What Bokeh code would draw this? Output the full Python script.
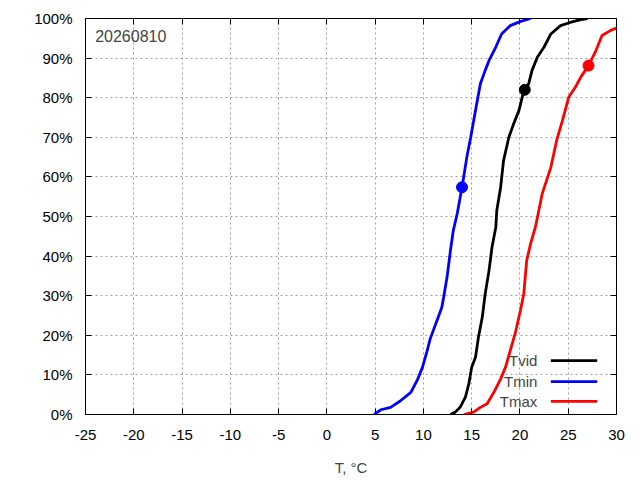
from bokeh.plotting import figure
from bokeh.models import (Range1d, LinearAxis, FixedTicker, PrintfTickFormatter,
                          CustomJSTickFormatter, Label)
from bokeh.embed import file_html
from bokeh.resources import INLINE

# ---- data ----
date_label = "20260810"
series_names = ["Tvid", "Tmin", "Tmax"]
series_colors = ["#000000", "#0000ff", "#ff0000"]

tvid_T = [12.8, 13.3, 13.8, 14.35, 14.7, 15.0, 15.4, 15.7, 16.1, 16.4, 16.8, 17.1, 17.5, 17.6,
          18.0, 18.3, 18.85, 19.35, 19.9, 20.4, 20.9, 21.25, 21.8, 22.5, 23.2, 24.2, 25.2, 26.3, 27.0]
tvid_P = [0, 0.6, 1.8, 4.4, 7.7, 11.9, 14.5, 19.5, 24.6, 30.5, 36.4, 42.2, 47.3, 51.5,
          57.4, 64.1, 70, 73.4, 76.8, 81.8, 83.5, 86.9, 90.2, 92.8, 96.1, 98.2, 99, 99.7, 100]

tmin_T = [4.9, 5.6, 6.6, 7.6, 8.7, 9.35, 9.9, 10.4, 10.7, 11.4, 11.9, 12.1, 12.45, 12.8,
          13.1, 13.5, 14.0, 14.5, 14.9, 15.4, 15.9, 16.4, 16.8, 17.5, 18.1, 19.0, 20.0, 21.1]
tmin_P = [0, 1.2, 1.8, 3.4, 5.6, 8.6, 11.9, 16.2, 19.1, 23.7, 27, 29.6, 34.7, 41.4,
          46.5, 50.7, 57.4, 65, 70, 76.8, 83.5, 86.9, 89.4, 92.8, 96.1, 98.2, 99.2, 100]

tmax_T = [14.2, 15.2, 15.9, 16.6, 17.3, 18.0, 18.5, 19.0, 19.5, 20.05, 20.4, 20.7, 21.1,
          21.6, 22.3, 23.2, 23.8, 24.4, 25.05, 25.75, 26.3, 27.1, 27.8, 28.5, 29.4, 30.0]
tmax_P = [0, 0.6, 1.8, 2.7, 5.6, 9, 11.9, 16.2, 20.4, 26.3, 30.5, 38.9, 43.1,
          47.3, 55.7, 62.4, 69.2, 74.2, 80.1, 82.7, 85.2, 88.1, 91.5, 95.7, 97, 97.6]

marker_T = [20.5, 14.0, 27.1]
marker_P = [82.0, 57.4, 88.1]

x_ticks = [-25, -20, -15, -10, -5, 0, 5, 10, 15, 20, 25, 30]
y_ticks = [0, 10, 20, 30, 40, 50, 60, 70, 80, 90, 100]

FONT = "Liberation Sans"
FS = "15px"

p = figure(width=632, height=480, output_backend="svg", toolbar_location=None,
           x_range=Range1d(-25, 30), y_range=Range1d(0, 100),
           min_border_left=85, min_border_right=16, min_border_top=18, min_border_bottom=66,
           x_axis_location=None, y_axis_location=None)
p.outline_line_color = "black"
p.outline_line_width = 1
p.background_fill_color = "white"
p.border_fill_color = "white"

def style_axis(ax, show_labels, minor):
    ax.axis_line_color = None
    ax.major_tick_in = 6
    ax.major_tick_out = 0
    ax.minor_tick_in = 3 if minor else 0
    ax.minor_tick_out = 0
    ax.major_tick_line_color = "black"
    ax.minor_tick_line_color = "black" if minor else None
    ax.major_label_text_font = FONT
    ax.major_label_text_font_size = FS
    ax.major_label_text_color = "black"
    if not show_labels:
        ax.formatter = CustomJSTickFormatter(code="return '';")
        ax.major_label_text_color = None
        ax.major_label_standoff = 0

xt = FixedTicker(ticks=x_ticks, num_minor_ticks=5)
yt = FixedTicker(ticks=y_ticks, num_minor_ticks=0)

xb = LinearAxis(ticker=xt, formatter=PrintfTickFormatter(format="%d"), axis_label="T, °C")
style_axis(xb, True, True)
xb.major_label_standoff = 15
xb.axis_label_text_font = FONT
xb.axis_label_text_font_size = FS
xb.axis_label_text_font_style = "normal"
xb.axis_label_standoff = 16
p.add_layout(xb, "below")

xa = LinearAxis(ticker=xt)
style_axis(xa, False, True)
p.add_layout(xa, "above")

yl = LinearAxis(ticker=yt, formatter=PrintfTickFormatter(format="%d%%"))
style_axis(yl, True, False)
yl.major_label_standoff = 13
p.add_layout(yl, "left")

yr = LinearAxis(ticker=yt)
style_axis(yr, False, False)
p.add_layout(yr, "right")

p.xgrid.ticker = xt
p.ygrid.ticker = yt
for g in (p.xgrid, p.ygrid):
    g.grid_line_color = "#a0a0a0"
    g.grid_line_dash = "2 3"
    g.grid_line_width = 1

all_T = [tvid_T, tmin_T, tmax_T]
all_P = [tvid_P, tmin_P, tmax_P]
for T, P, c in zip(all_T, all_P, series_colors):
    p.line(T, P, line_color=c, line_width=2.8)

p.scatter(marker_T, marker_P, size=11, fill_color=series_colors, line_color=series_colors)

p.add_layout(Label(x=-24.0, y=95.7, text=date_label, text_font=FONT, text_font_size="16px",
                   text_baseline="middle", text_align="left"))

# legend (label left, sample right), as in the reference
leg_y = [13.6, 8.3, 3.3]
for name, c, ly in zip(series_names, series_colors, leg_y):
    p.add_layout(Label(x=21.8, y=ly, text=name, text_font=FONT, text_font_size=FS,
                       text_align="right", text_baseline="middle"))
    p.segment(x0=[23.2], y0=[ly], x1=[28.0], y1=[ly], line_color=c, line_width=2.8)

open("out.html", "w").write(file_html(p, INLINE))
